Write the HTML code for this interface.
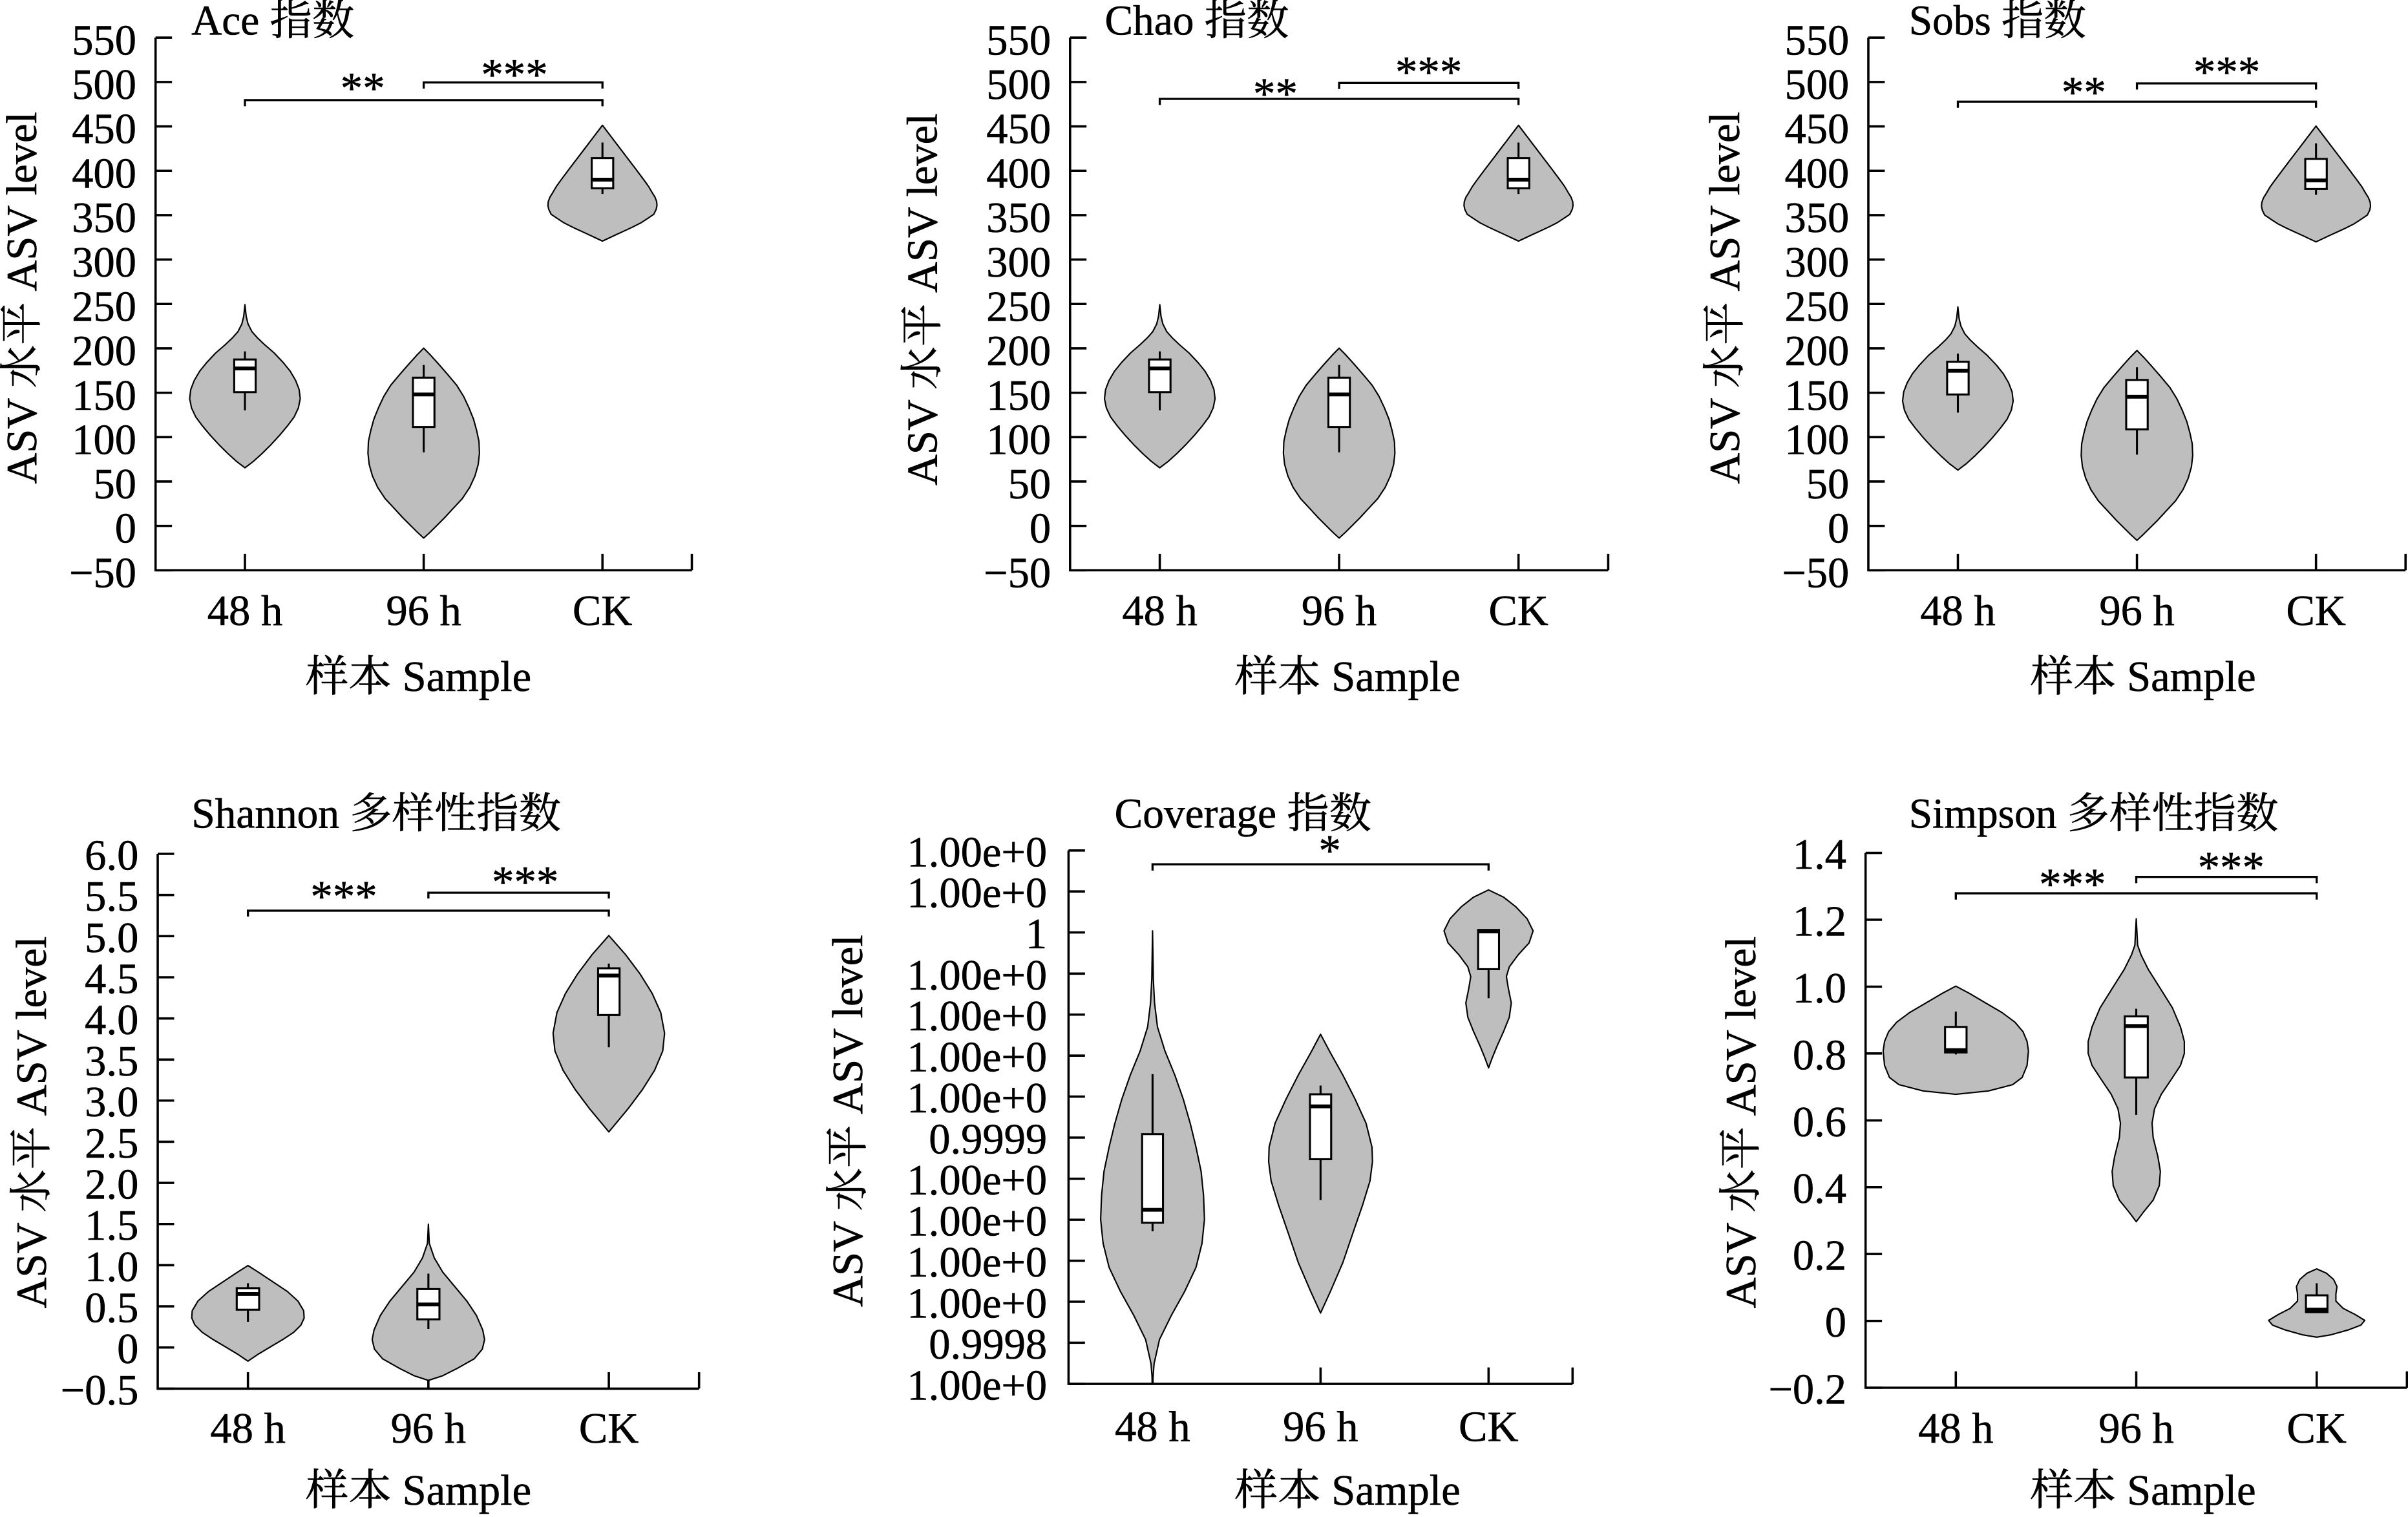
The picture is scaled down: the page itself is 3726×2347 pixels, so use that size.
<!DOCTYPE html>
<html>
<head>
<meta charset="utf-8">
<style>
html,body{margin:0;padding:0;background:#fff;}
svg{display:block;}
text{font-family:"Liberation Serif","Noto Serif CJK SC",serif;fill:#000;stroke:#000;stroke-width:0.25;}
.yt{font-size:28px;text-anchor:end;}
.xt{font-size:28px;text-anchor:middle;}
.at{font-size:28px;text-anchor:middle;}
.tt{font-size:27.5px;}
.st{font-size:29px;text-anchor:middle;}
.ax{fill:none;stroke:#000;stroke-width:1.5;}
.br{fill:none;stroke:#000;stroke-width:1.4;}
.v{fill:#bebebe;stroke:#000;stroke-width:0.9;stroke-linejoin:round;}
.b{fill:#fff;stroke:#000;stroke-width:1.3;}
.m{stroke:#000;stroke-width:2.5;}
.w{stroke:#000;stroke-width:1.3;}
</style>
</head>
<body>
<svg width="3726" height="2347" viewBox="0 0 1568 988" preserveAspectRatio="none" xmlns="http://www.w3.org/2000/svg" xmlns:xlink="http://www.w3.org/1999/xlink">
<rect x="0" y="0" width="1568" height="988" fill="#fff"/>
<defs>
<g id="t48">
<path class="v" d="M0,199.4 L0.8,207 2,212 4.5,217 8,221 12.7,225.5 19,231 25,237.4 29.5,243 33,249 35.3,255 36,261 34.8,267 32,273 27.5,279 22.5,285 17,291 11,297 5.5,302 0,306.2 -5.5,302 -11,297 -17,291 -22.5,285 -27.5,279 -32,273 -34.8,267 -36,261 -35.3,255 -33,249 -29.5,243 -25,237.4 -19,231 -12.7,225.5 -8,221 -4.5,217 -2,212 -0.8,207 Z"/>
<path class="w" d="M0,230V268.6"/>
<rect class="b" x="-7" y="235.3" width="14" height="21.4"/>
<path class="m" d="M-7,241.2H7"/>
</g>
<g id="t96">
<path class="v" d="M0,227.9 L4.5,232.5 8.9,237.4 15.5,245 21.5,252.2 26,259.5 29.5,267 32.5,274.5 34.5,281.9 36,289 36.3,296.7 35.5,304 33.4,311.5 30,319 25.1,326.4 19,333 13.5,339 8.5,344 4,348.5 0,352.2 -4,348.5 -8.5,344 -13.5,339 -19,333 -25.1,326.4 -30,319 -33.4,311.5 -35.5,304 -36.3,296.7 -36,289 -34.5,281.9 -32.5,274.5 -29.5,267 -26,259.5 -21.5,252.2 -15.5,245 -8.9,237.4 -4.5,232.5 Z"/>
<path class="w" d="M0,238.9V296.1"/>
<rect class="b" x="-7" y="247.2" width="14" height="32.3"/>
<path class="m" d="M-7,258.2H7"/>
</g>
<g id="tCK">
<path class="v" d="M0,82 L5.9,89.8 11.2,96.8 16.5,103.8 21.8,110.8 27,117.8 30,122 32.5,126.3 34.2,129 35.3,132 35.5,134.5 35,137 33.4,140.3 29.4,143 25,145.9 19.5,148.7 13.5,151.5 8.5,153.8 4.5,155.7 0,157.8 -4.5,155.7 -8.5,153.8 -13.5,151.5 -19.5,148.7 -25,145.9 -29.4,143 -33.4,140.3 -35,137 -35.5,134.5 -35.3,132 -34.2,129 -32.5,126.3 -30,122 -27,117.8 -21.8,110.8 -16.5,103.8 -11.2,96.8 -5.9,89.8 Z"/>
<path class="w" d="M0,93.3V127"/>
<rect class="b" x="-7" y="103.5" width="14" height="19.7"/>
<path class="m" d="M-7,117.6H7"/>
</g>
</defs>

<!-- ================= Ace ================= -->
<text class="tt" x="124.6" y="22.5">Ace 指数</text>
<text class="at" transform="translate(23.6,194) rotate(-90)">ASV 水平 ASV level</text>
<text class="at" x="272.5" y="450">样本 Sample</text>
<g transform="translate(101.3,0)">
<path class="ax" d="M0,24.5V371.4H349.2"/>
<path class="ax" d="M0,24.5h10.7M0,53.41h10.7M0,82.32h10.7M0,111.23h10.7M0,140.14h10.7M0,169.05h10.7M0,197.96h10.7M0,226.87h10.7M0,255.78h10.7M0,284.69h10.7M0,313.6h10.7M0,342.51h10.7M0,371.42h10.7"/>
<path class="ax" d="M58.2,371.4v-10.7M174.6,371.4v-10.7M291,371.4v-10.7M349.2,371.4v-10.7"/>
<text class="yt" x="-12.5" y="35.5">550</text>
<text class="yt" x="-12.5" y="64.4">500</text>
<text class="yt" x="-12.5" y="93.3">450</text>
<text class="yt" x="-12.5" y="122.2">400</text>
<text class="yt" x="-12.5" y="151.1">350</text>
<text class="yt" x="-12.5" y="180.1">300</text>
<text class="yt" x="-12.5" y="209">250</text>
<text class="yt" x="-12.5" y="237.9">200</text>
<text class="yt" x="-12.5" y="266.8">150</text>
<text class="yt" x="-12.5" y="295.7">100</text>
<text class="yt" x="-12.5" y="324.6">50</text>
<text class="yt" x="-12.5" y="353.5">0</text>
<text class="yt" x="-12.5" y="382.4">−50</text>
<text class="xt" x="58.2" y="407">48 h</text>
<text class="xt" x="174.6" y="407">96 h</text>
<text class="xt" x="291" y="407">CK</text>
<path class="br" d="M58.2,69.2V65.2H291V69.2"/>
<path class="br" d="M174.6,57.7V53.7H291V57.7"/>
<text class="st" x="134.9" y="67.2">**</text>
<text class="st" x="233.7" y="58.3">***</text>
<use xlink:href="#t48" href="#t48" x="58.2" y="0" transform="scale(1,0.995)"/>
<use xlink:href="#t96" href="#t96" x="174.6" y="0" transform="scale(1,0.995)"/>
<use xlink:href="#tCK" href="#tCK" x="291" y="0" transform="scale(1,0.995)"/>
</g>

<!-- ================= Chao ================= -->
<text class="tt" x="719.4" y="22.5">Chao 指数</text>
<text class="at" transform="translate(610,195) rotate(-90)">ASV 水平 ASV level</text>
<text class="at" x="877.5" y="450">样本 Sample</text>
<g transform="translate(696.8,0)">
<path class="ax" d="M0,24.5V371.4H350.4"/>
<path class="ax" d="M0,24.5h10.7M0,53.41h10.7M0,82.32h10.7M0,111.23h10.7M0,140.14h10.7M0,169.05h10.7M0,197.96h10.7M0,226.87h10.7M0,255.78h10.7M0,284.69h10.7M0,313.6h10.7M0,342.51h10.7M0,371.42h10.7"/>
<path class="ax" d="M58.4,371.4v-10.7M175.2,371.4v-10.7M292,371.4v-10.7M350.4,371.4v-10.7"/>
<text class="yt" x="-12.5" y="35.5">550</text>
<text class="yt" x="-12.5" y="64.4">500</text>
<text class="yt" x="-12.5" y="93.3">450</text>
<text class="yt" x="-12.5" y="122.2">400</text>
<text class="yt" x="-12.5" y="151.1">350</text>
<text class="yt" x="-12.5" y="180.1">300</text>
<text class="yt" x="-12.5" y="209">250</text>
<text class="yt" x="-12.5" y="237.9">200</text>
<text class="yt" x="-12.5" y="266.8">150</text>
<text class="yt" x="-12.5" y="295.7">100</text>
<text class="yt" x="-12.5" y="324.6">50</text>
<text class="yt" x="-12.5" y="353.5">0</text>
<text class="yt" x="-12.5" y="382.4">−50</text>
<text class="xt" x="58.4" y="407">48 h</text>
<text class="xt" x="175.2" y="407">96 h</text>
<text class="xt" x="292" y="407">CK</text>
<path class="br" d="M58.4,68.4V64.4H292V68.4"/>
<path class="br" d="M175.2,58V54H292V58"/>
<text class="st" x="133.7" y="70.8">**</text>
<text class="st" x="233.5" y="56.6">***</text>
<use xlink:href="#t48" href="#t48" x="58.4" y="0" transform="scale(1,0.995)"/>
<use xlink:href="#t96" href="#t96" x="175.2" y="0" transform="scale(1,0.995)"/>
<use xlink:href="#tCK" href="#tCK" x="292" y="0" transform="scale(1,0.995)"/>
</g>

<!-- ================= Sobs ================= -->
<text class="tt" x="1243" y="22.5">Sobs 指数</text>
<text class="at" transform="translate(1132.5,194) rotate(-90)">ASV 水平 ASV level</text>
<text class="at" x="1395.5" y="450">样本 Sample</text>
<g transform="translate(1216.6,0)">
<path class="ax" d="M0,24.5V371.4H349.8"/>
<path class="ax" d="M0,24.5h10.7M0,53.41h10.7M0,82.32h10.7M0,111.23h10.7M0,140.14h10.7M0,169.05h10.7M0,197.96h10.7M0,226.87h10.7M0,255.78h10.7M0,284.69h10.7M0,313.6h10.7M0,342.51h10.7M0,371.42h10.7"/>
<path class="ax" d="M58.3,371.4v-10.7M174.9,371.4v-10.7M291.5,371.4v-10.7M349.8,371.4v-10.7"/>
<text class="yt" x="-12.5" y="35.5">550</text>
<text class="yt" x="-12.5" y="64.4">500</text>
<text class="yt" x="-12.5" y="93.3">450</text>
<text class="yt" x="-12.5" y="122.2">400</text>
<text class="yt" x="-12.5" y="151.1">350</text>
<text class="yt" x="-12.5" y="180.1">300</text>
<text class="yt" x="-12.5" y="209">250</text>
<text class="yt" x="-12.5" y="237.9">200</text>
<text class="yt" x="-12.5" y="266.8">150</text>
<text class="yt" x="-12.5" y="295.7">100</text>
<text class="yt" x="-12.5" y="324.6">50</text>
<text class="yt" x="-12.5" y="353.5">0</text>
<text class="yt" x="-12.5" y="382.4">−50</text>
<text class="xt" x="58.3" y="407">48 h</text>
<text class="xt" x="174.9" y="407">96 h</text>
<text class="xt" x="291.5" y="407">CK</text>
<path class="br" d="M58.3,70.2V66.2H291.5V70.2"/>
<path class="br" d="M174.9,58.3V54.3H291.5V58.3"/>
<text class="st" x="140.3" y="69.9">**</text>
<text class="st" x="233.4" y="56.6">***</text>
<use xlink:href="#t48" href="#t48" x="58.3" y="1.5" transform="scale(1,0.995)"/>
<use xlink:href="#t96" href="#t96" x="174.9" y="1.5" transform="scale(1,0.995)"/>
<use xlink:href="#tCK" href="#tCK" x="291.5" y="0.5" transform="scale(1,0.995)"/>
</g>

<!-- ================= Shannon ================= -->
<text class="tt" x="124.7" y="539">Shannon 多样性指数</text>
<text class="at" transform="translate(29.9,731) rotate(-90)">ASV 水平 ASV level</text>
<text class="at" x="272.5" y="980">样本 Sample</text>
<g transform="translate(102.7,0)">
<path class="ax" d="M0,556.1V904.4H352.5"/>
<path class="ax" d="M0,556.1h10.7M0,582.9h10.7M0,609.7h10.7M0,636.5h10.7M0,663.3h10.7M0,690.1h10.7M0,716.8h10.7M0,743.6h10.7M0,770.4h10.7M0,797.2h10.7M0,824h10.7M0,850.8h10.7M0,877.6h10.7M0,904.4h10.7"/>
<path class="ax" d="M58.75,904.4v-10.7M176.25,904.4v-10.7M293.75,904.4v-10.7M352.5,904.4v-10.7"/>
<text class="yt" x="-12.5" y="566.4">6.0</text>
<text class="yt" x="-12.5" y="593.2">5.5</text>
<text class="yt" x="-12.5" y="620">5.0</text>
<text class="yt" x="-12.5" y="646.8">4.5</text>
<text class="yt" x="-12.5" y="673.6">4.0</text>
<text class="yt" x="-12.5" y="700.4">3.5</text>
<text class="yt" x="-12.5" y="727.1">3.0</text>
<text class="yt" x="-12.5" y="753.9">2.5</text>
<text class="yt" x="-12.5" y="780.7">2.0</text>
<text class="yt" x="-12.5" y="807.5">1.5</text>
<text class="yt" x="-12.5" y="834.3">1.0</text>
<text class="yt" x="-12.5" y="861.1">0.5</text>
<text class="yt" x="-12.5" y="887.9">0</text>
<text class="yt" x="-12.5" y="914.7">−0.5</text>
<text class="xt" x="58.75" y="939.5">48 h</text>
<text class="xt" x="176.25" y="939.5">96 h</text>
<text class="xt" x="293.75" y="939.5">CK</text>
<path class="br" d="M58.75,596.9V593.1H293.75V596.9"/>
<path class="br" d="M176.25,585.2V581.4H293.75V585.2"/>
<text class="st" x="121.2" y="593.5">***</text>
<text class="st" x="239.3" y="584.1">***</text>
<g transform="matrix(1,0,0,0.99492,0,2.523)">
<g transform="translate(58.75,0)">
<path class="v" d="M0,825.9 L6.9,830.3 16.3,836.6 25.7,842.9 32.6,849.2 36.3,855.5 36.6,860.2 34.5,864.9 29.8,869.6 22.6,874.4 14.7,879.1 6.9,883.8 0,888.5 -6.9,883.8 -14.7,879.1 -22.6,874.4 -29.8,869.6 -34.5,864.9 -36.6,860.2 -36.3,855.5 -32.6,849.2 -25.7,842.9 -16.3,836.6 -6.9,830.3 Z"/>
<path class="w" d="M0,837.5V862.7"/>
<rect class="b" x="-7.3" y="840.7" width="14.6" height="14.1"/>
<path class="m" d="M-7.3,844.5H7.3"/>
</g>
<g transform="translate(176.25,0)">
<path class="v" d="M0,798.8 L0.6,811.4 3.8,820.8 9.4,830.3 17.2,839.7 25.1,849.2 31.3,858.6 35.4,868.1 36.6,874.4 35.1,880.7 29.8,887 18.8,893.2 9.4,898 0,901.1 -9.4,898 -18.8,893.2 -29.8,887 -35.1,880.7 -36.6,874.4 -35.4,868.1 -31.3,858.6 -25.1,849.2 -17.2,839.7 -9.4,830.3 -3.8,820.8 -0.6,811.4 Z"/>
<path class="w" d="M0,831.2V867.4"/>
<rect class="b" x="-7.2" y="841.3" width="14.4" height="19.8"/>
<path class="m" d="M-7.2,851.4H7.2"/>
</g>
<g transform="translate(293.75,0)">
<path class="v" d="M0,609.9 L11,622.5 20.4,635.1 28.2,647.7 33.8,660.3 36.3,673.8 35.1,685.5 29.8,698.1 21.9,710.7 12.5,723.3 0,738.4 -12.5,723.3 -21.9,710.7 -29.8,698.1 -35.1,685.5 -36.3,673.8 -33.8,660.3 -28.2,647.7 -20.4,635.1 -11,622.5 Z"/>
<path class="w" d="M0,628.2V683"/>
<rect class="b" x="-7" y="631.3" width="14" height="30.6"/>
<path class="m" d="M-7,636.1H7"/>
</g>
</g>
</g>

<!-- ================= Coverage ================= -->
<text class="tt" x="725.8" y="539">Coverage 指数</text>
<text class="at" transform="translate(561.4,730) rotate(-90)">ASV 水平 ASV level</text>
<text class="at" x="877.5" y="980">样本 Sample</text>
<g transform="translate(695.8,0)">
<path class="ax" d="M0,553.9V901.3H328.2"/>
<path class="ax" d="M0,553.9h10.7M0,580.6h10.7M0,607.3h10.7M0,634.1h10.7M0,660.8h10.7M0,687.5h10.7M0,714.2h10.7M0,740.9h10.7M0,767.7h10.7M0,794.4h10.7M0,821.1h10.7M0,847.8h10.7M0,874.5h10.7M0,901.3h10.7"/>
<path class="ax" d="M54.7,901.3v-10.7M164.1,901.3v-10.7M273.5,901.3v-10.7M328.2,901.3v-10.7"/>
<text class="yt" x="-14" y="564.2">1.00e+0</text>
<text class="yt" x="-14" y="590.9">1.00e+0</text>
<text class="yt" x="-14" y="617.6">1</text>
<text class="yt" x="-14" y="644.4">1.00e+0</text>
<text class="yt" x="-14" y="671.1">1.00e+0</text>
<text class="yt" x="-14" y="697.8">1.00e+0</text>
<text class="yt" x="-14" y="724.5">1.00e+0</text>
<text class="yt" x="-14" y="751.2">0.9999</text>
<text class="yt" x="-14" y="778">1.00e+0</text>
<text class="yt" x="-14" y="804.7">1.00e+0</text>
<text class="yt" x="-14" y="831.4">1.00e+0</text>
<text class="yt" x="-14" y="858.1">1.00e+0</text>
<text class="yt" x="-14" y="884.8">0.9998</text>
<text class="yt" x="-14" y="911.6">1.00e+0</text>
<text class="xt" x="54.7" y="938.5">48 h</text>
<text class="xt" x="164.1" y="938.5">96 h</text>
<text class="xt" x="273.5" y="938.5">CK</text>
<path class="br" d="M54.7,567V562.9H273.5V567"/>
<text class="st" x="170.1" y="563.7">*</text>
<g transform="matrix(1,0,0,0.99492,0,2.523)">
<g transform="translate(54.7,0)">
<path class="v" d="M0,606.8 L0.5,638.3 1.3,654 3.2,669.7 8.1,685.5 14.5,701.2 20,717 24.5,732.7 28.3,748.4 31.6,764.2 33.2,779.9 33.8,795.7 32.2,811.4 28.3,827.1 20.9,842.9 12.2,858.6 4.5,874.4 1,890.1 0,903 -1,890.1 -4.5,874.4 -12.2,858.6 -20.9,842.9 -28.3,827.1 -32.2,811.4 -33.8,795.7 -33.2,779.9 -31.6,764.2 -28.3,748.4 -24.5,732.7 -20,717 -14.5,701.2 -8.1,685.5 -3.2,669.7 -1.3,654 -0.5,638.3 Z"/>
<path class="w" d="M0,700.6V803.5"/>
<rect class="b" x="-6.8" y="739.9" width="13.6" height="58"/>
<path class="m" d="M-6.8,789.4H6.8"/>
</g>
<g transform="translate(164.1,0)">
<path class="v" d="M0,674.5 L5.8,685.5 14.5,701.2 22.5,717 29.6,732.7 33.5,748.4 33.8,757.9 32.2,770.5 27.4,786.2 20.9,805.1 14.5,824 6.4,842.9 0,857 -6.4,842.9 -14.5,824 -20.9,805.1 -27.4,786.2 -32.2,770.5 -33.8,757.9 -33.5,748.4 -29.6,732.7 -22.5,717 -14.5,701.2 -5.8,685.5 Z"/>
<path class="w" d="M0,708.1V783.1"/>
<rect class="b" x="-6.9" y="713.8" width="13.8" height="42.5"/>
<path class="m" d="M-6.9,721.7H6.9"/>
</g>
<g transform="translate(273.5,0)">
<path class="v" d="M0,580 L9.7,584.7 17.7,591 25.1,598.9 29,606.8 26.4,614.7 19.3,622.5 13.5,630.4 11.6,636.7 12.9,644.6 14.8,654 13.5,663.4 9.7,672.9 5.5,682.3 2.3,690.2 0,696.5 -2.3,690.2 -5.5,682.3 -9.7,672.9 -13.5,663.4 -14.8,654 -12.9,644.6 -11.6,636.7 -13.5,630.4 -19.3,622.5 -26.4,614.7 -29,606.8 -25.1,598.9 -17.7,591 -9.7,584.7 Z"/>
<path class="w" d="M0,631.9V650.9"/>
<rect class="b" x="-6.8" y="606.2" width="13.6" height="25.7"/>
<path class="m" d="M-6.8,607.2H6.8"/>
</g>
</g>
</g>

<!-- ================= Simpson ================= -->
<text class="tt" x="1243" y="539">Simpson 多样性指数</text>
<text class="at" transform="translate(1142.9,731) rotate(-90)">ASV 水平 ASV level</text>
<text class="at" x="1395.5" y="980">样本 Sample</text>
<g transform="translate(1214.8,0)">
<path class="ax" d="M0,555.5V903.8H352.5"/>
<path class="ax" d="M0,555.5h10.7M0,599h10.7M0,642.6h10.7M0,686.1h10.7M0,729.7h10.7M0,773.2h10.7M0,816.7h10.7M0,860.3h10.7M0,903.8h10.7"/>
<path class="ax" d="M58.75,903.8v-10.7M176.25,903.8v-10.7M293.75,903.8v-10.7M352.5,903.8v-10.7"/>
<text class="yt" x="-12.5" y="565.8">1.4</text>
<text class="yt" x="-12.5" y="609.3">1.2</text>
<text class="yt" x="-12.5" y="652.9">1.0</text>
<text class="yt" x="-12.5" y="696.4">0.8</text>
<text class="yt" x="-12.5" y="740">0.6</text>
<text class="yt" x="-12.5" y="783.5">0.4</text>
<text class="yt" x="-12.5" y="827">0.2</text>
<text class="yt" x="-12.5" y="870.6">0</text>
<text class="yt" x="-12.5" y="914.1">−0.2</text>
<text class="xt" x="58.75" y="939.5">48 h</text>
<text class="xt" x="176.25" y="939.5">96 h</text>
<text class="xt" x="293.75" y="939.5">CK</text>
<path class="br" d="M58.75,585.9V581.8H293.75V585.9"/>
<path class="br" d="M176.25,575.2V571.1H293.75V575.2"/>
<text class="st" x="134.7" y="585.6">***</text>
<text class="st" x="238" y="574.6">***</text>
<g transform="matrix(1,0,0,0.99492,0,2.523)">
<g transform="translate(58.75,0)">
<path class="v" d="M0,643 L8.8,647.7 19.4,654 30.1,660.3 38.5,666.6 43.8,672.9 46.4,679.2 47.3,685.5 46.4,694.9 43.2,702.8 37,707.5 21.3,711.6 0,713.8 -21.3,711.6 -37,707.5 -43.2,702.8 -46.4,694.9 -47.3,685.5 -46.4,679.2 -43.8,672.9 -38.5,666.6 -30.1,660.3 -19.4,654 -8.8,647.7 Z"/>
<path class="w" d="M0,659.7V687.7"/>
<rect class="b" x="-7" y="669.7" width="14" height="16.7"/>
<path class="m" d="M-7,684.9H7"/>
</g>
<g transform="translate(176.25,0)">
<path class="v" d="M0,598.9 L0.9,616.2 3.1,622.5 7.8,632 15.7,644.6 23.5,657.1 28.8,669.7 31.3,679.2 31.3,687.1 28.8,694.9 22.6,704.4 16.3,713.8 11.9,723.3 10.3,732.7 11,742.1 14.1,754.7 15.7,764.2 15,773.6 11,783.1 4.7,790.9 0,797.2 -4.7,790.9 -11,783.1 -15,773.6 -15.7,764.2 -14.1,754.7 -11,742.1 -10.3,732.7 -11.9,723.3 -16.3,713.8 -22.6,704.4 -28.8,694.9 -31.3,687.1 -31.3,679.2 -28.8,669.7 -23.5,657.1 -15.7,644.6 -7.8,632 -3.1,622.5 -0.9,616.2 Z"/>
<path class="w" d="M0,657.8V727.3"/>
<rect class="b" x="-7.5" y="662.8" width="15" height="40"/>
<path class="m" d="M-7.5,669.1H7.5"/>
</g>
<g transform="translate(293.75,0)">
<path class="v" d="M0,828.1 L6.3,830.9 11,835 13.2,839.7 12.5,844.5 12.5,849.2 17.2,853.9 25.1,858 31.3,861.8 28.8,864.9 20.4,868.1 9.4,871.2 0,872.8 -9.4,871.2 -20.4,868.1 -28.8,864.9 -31.3,861.8 -25.1,858 -17.2,853.9 -12.5,849.2 -12.5,844.5 -13.2,839.7 -11,835 -6.3,830.9 Z"/>
<path class="w" d="M0,837.5V856.4"/>
<rect class="b" x="-7" y="845.4" width="14" height="11"/>
<path class="m" d="M-7,854.8H7"/>
</g>
</g>
</g>
</svg>
</body>
</html>
